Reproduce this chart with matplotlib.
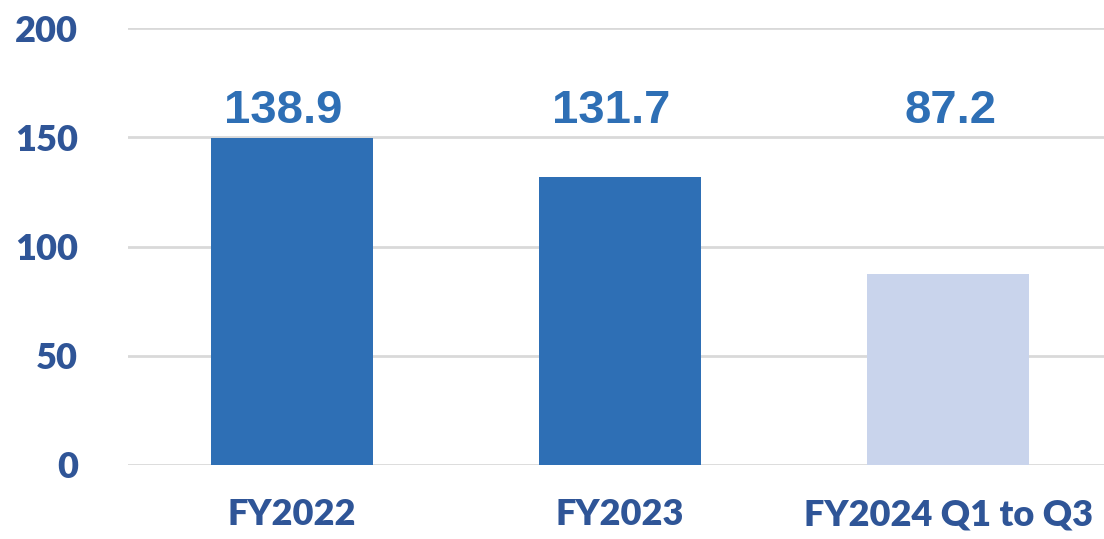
import matplotlib
matplotlib.use("Agg")
import matplotlib.pyplot as plt

categories = ["FY2022", "FY2023", "FY2024 Q1 to Q3"]
bar_heights = [149.7, 131.7, 87.6]
value_labels = ["138.9", "131.7", "87.2"]
bar_colors = ["#2E6FB5", "#2E6FB5", "#C9D4EC"]
yticks = [0, 50, 100, 150, 200]

fig = plt.figure(figsize=(11.04, 5.39), dpi=100)
ax = fig.add_axes([128/1104, 74/539, 984/1104, 437/539])

x = list(range(len(categories)))
ax.bar(x, bar_heights, width=0.494, color=bar_colors, zorder=3)
ax.set_xlim(-0.5, 2.5)
ax.set_ylim(0, 200)
ax.set_yticks(yticks)
ax.set_yticklabels([str(t) for t in yticks])
ax.set_xticks(x)
ax.set_xticklabels(categories)
ax.grid(axis="y", color="#D9D9D9", linewidth=2, zorder=0)
ax.set_axisbelow(True)
for s in ["top", "right", "left", "bottom"]:
    ax.spines[s].set_visible(False)
ax.tick_params(axis="both", length=0)
ax.tick_params(axis="y", pad=36)
ax.tick_params(axis="x", pad=24)
for lbl in ax.get_yticklabels() + ax.get_xticklabels():
    lbl.set_fontfamily("Lato")
    lbl.set_fontweight("heavy")
    lbl.set_fontsize(26)
    lbl.set_color("#2F5597")

label_shift_pt = [-6, -6.5, 2]
for xi, lab, dx in zip(x, value_labels, label_shift_pt):
    ax.annotate(lab, (xi, 162), xytext=(dx, 0), textcoords="offset points",
                ha="center", va="center", fontsize=34,
                fontweight="bold", family="Liberation Sans", color="#2E6FB5")

fig.savefig("out.png", dpi=100)
